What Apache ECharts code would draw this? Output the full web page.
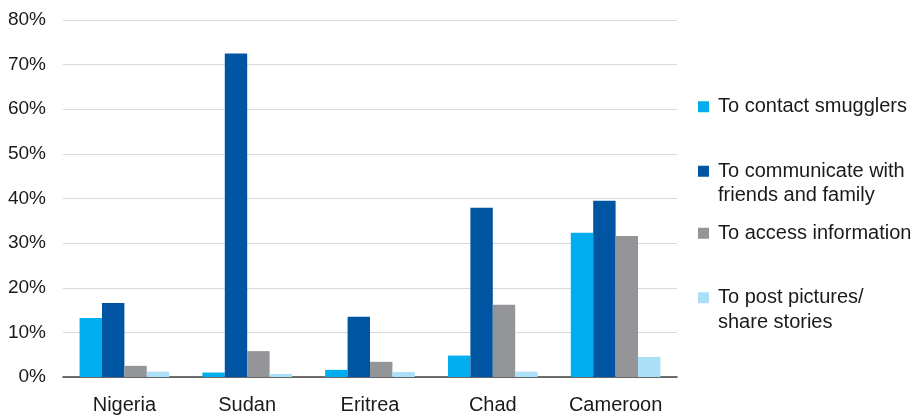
<!DOCTYPE html>
<html>
<head>
<meta charset="utf-8">
<script src="https://cdn.jsdelivr.net/npm/echarts@6/dist/echarts.min.js"></script>
<style>
html,body{margin:0;padding:0;background:#fff;}
#chart{width:919px;height:415px;}
</style>
</head>
<body>
<div id="chart"></div>
<script>
const categories = ['Nigeria', 'Sudan', 'Eritrea', 'Chad', 'Cameroon'];
const seriesNames = ['To contact smugglers', 'To communicate with friends and family', 'To access information', 'To post pictures/ share stories'];
const contactSmugglers = [13.2, 1.0, 1.6, 4.8, 32.3];
const communicate = [16.6, 72.5, 13.5, 37.9, 39.5];
const accessInfo = [2.5, 5.8, 3.4, 16.2, 31.6];
const postPictures = [1.2, 0.7, 1.1, 1.2, 4.5];
const yTicks = [0, 10, 20, 30, 40, 50, 60, 70, 80];

const colors = ['#00AEEF', '#0055A2', '#939598', '#ABDFF8'];
const values = [contactSmugglers, communicate, accessInfo, postPictures];
const legendLabels = {
  'To contact smugglers': 'To contact smugglers',
  'To communicate with friends and family': '\nTo communicate with\nfriends and family',
  'To access information': 'To access information',
  'To post pictures/ share stories': '\nTo post pictures/\nshare stories'
};
const legendTops = [94.5, 134.5, 221, 261];
const font = 'Liberation Sans, Arial, sans-serif';

const chart = echarts.init(document.getElementById('chart'));
chart.setOption({
  animation: false,
  textStyle: { fontFamily: font },
  grid: { left: 63, right: 242, top: 20, bottom: 37, containLabel: false },
  legend: seriesNames.map((n, i) => ({
    data: [n],
    left: 698,
    top: legendTops[i],
    padding: 0,
    icon: 'rect',
    itemWidth: 11,
    itemHeight: 11,
    selectedMode: false,
    formatter: (name) => legendLabels[name],
    textStyle: { fontSize: 20, color: '#1a1a1a', lineHeight: 24.5, padding: [0, 0, 0, 4], fontFamily: font }
  })),
  xAxis: {
    type: 'category',
    data: categories,
    axisTick: { show: false },
    axisLine: { lineStyle: { color: '#404040', width: 1.5 } },
    axisLabel: { fontSize: 20, color: '#1a1a1a', margin: 18, fontFamily: font }
  },
  yAxis: {
    type: 'value',
    min: 0,
    max: 80,
    interval: 10,
    axisLine: { show: false },
    axisTick: { show: false },
    splitLine: { lineStyle: { color: '#d9d9d9', width: 1 } },
    axisLabel: { fontSize: 19, color: '#1a1a1a', margin: 17, fontFamily: font, formatter: (v) => yTicks.includes(v) ? v + '%' : '' }
  },
  series: seriesNames.map((n, i) => ({
    name: n,
    type: 'bar',
    data: values[i],
    barGap: '0%',
    barCategoryGap: '27%',
    itemStyle: { color: colors[i] }
  }))
});
</script>
</body>
</html>
